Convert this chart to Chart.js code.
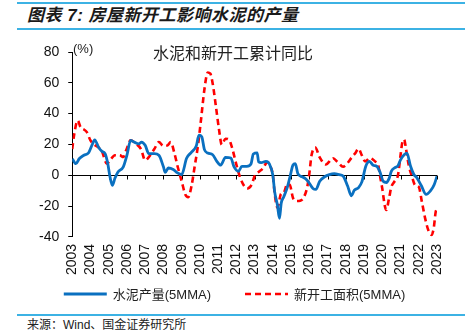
<!DOCTYPE html>
<html>
<head>
<meta charset="utf-8">
<script src="https://cdn.jsdelivr.net/npm/chart.js@4.4.0/dist/chart.umd.min.js"></script>
<style>
  html, body { margin: 0; padding: 0; background: #fff; }
  #page { position: relative; width: 465px; height: 331px; overflow: hidden;
          font-family: "Liberation Sans", "Noto Sans CJK SC", sans-serif; }
  .rule { position: absolute; left: 17px; right: 0; height: 2px; background: #3cb2e4; }
  #title { position: absolute; left: 27px; top: 7px; font-size: 17px; line-height: 17px;
           font-weight: bold; font-style: italic; color: #1a1a1a; white-space: nowrap;
           letter-spacing: 0.5px; }
  #box { position: absolute; left: 0; top: 32px; width: 465px; height: 280px; }
  #source { position: absolute; left: 27px; top: 319px; font-size: 12px; line-height: 12px;
            color: #222; white-space: nowrap; }
</style>
</head>
<body>
<div id="page">
  <div class="rule" style="top:2px"></div>
  <div id="title">图表 7:  房屋新开工影响水泥的产量</div>
  <div class="rule" style="top:28px"></div>
  <div id="box"><canvas id="chart"></canvas></div>
  <div class="rule" style="top:314px"></div>
  <div id="source">来源：Wind、国金证券研究所</div>
</div>

<script>
// 水泥产量 5MMA 同比 (%)
const cementT = [2003.0, 2003.2, 2003.38, 2003.64, 2003.9, 2004.1, 2004.23, 2004.45, 2004.63, 2004.8,
  2004.95, 2005.07, 2005.2, 2005.34, 2005.5, 2005.8, 2006.0, 2006.2, 2006.4, 2006.65,
  2006.8, 2007.0, 2007.2, 2007.5, 2007.75, 2008.0, 2008.1, 2008.27, 2008.54, 2008.77,
  2009.0, 2009.27, 2009.54, 2009.8, 2009.95, 2010.1, 2010.25, 2010.43, 2010.7, 2010.93,
  2011.14, 2011.4, 2011.7, 2011.86, 2012.12, 2012.3, 2012.57, 2012.8, 2012.93, 2013.14,
  2013.22, 2013.36, 2013.62, 2013.8, 2014.0, 2014.1, 2014.25, 2014.36, 2014.46, 2014.6,
  2014.8, 2014.96, 2015.1, 2015.23, 2015.37, 2015.6, 2015.77, 2015.95, 2016.2, 2016.36,
  2016.57, 2016.84, 2017.1, 2017.37, 2017.64, 2017.85, 2018.1, 2018.3, 2018.47, 2018.7,
  2018.88, 2019.1, 2019.3, 2019.5, 2019.7, 2019.87, 2020.05, 2020.23, 2020.37, 2020.5,
  2020.7, 2020.85, 2021.0, 2021.2, 2021.35, 2021.55, 2021.73, 2021.9, 2022.15, 2022.4,
  2022.65, 2022.85, 2023.0];
const cementV = [10.7, 7.5, 10.7, 13, 14.6, 20, 23, 18, 15.5, 14,
  7.5, -1, -6.5, -2, 2, 5.4, 13, 22.6, 21.5, 20.4,
  21.5, 19.4, 14, 14, 13, 5.5, 1.8, 4.7, 3.7, 1.5,
  0.4, 11, 15, 19, 26, 25, 16.6, 14.4, 13.3, 9,
  6.5, 11.6, 11.2, 5.8, 2.6, 5.8, 5.8, 7.3, 13.8, 14.5,
  8.6, 8.2, 9, 7.5, 0, -10.8, -19.4, -28, -18, -14,
  -7.5, 0, 6.5, 7.5, 1, -1, -2, -4.3, -8.6, -9.2,
  -3.9, -1, 0.4, 1, 0.4, -0.5, -7, -13.3, -9.7, -8,
  -4.3, 6, 9, 6.5, 5.8, 2.2, -3.9, -4.7, -2.2, 2.6,
  5, 6, 10, 13.3, 14.3, 5.8, 0.5, -1.7, -7, -12.4,
  -10, -6, -0.6];

// 新开工面积 5MMA 同比 (%)
const startsT = [2003.0, 2003.1, 2003.3, 2003.46, 2003.64, 2003.8, 2004.0, 2004.25, 2004.45, 2004.63,
  2004.9, 2005.07, 2005.34, 2005.6, 2005.8, 2005.95, 2006.2, 2006.5, 2006.77, 2007.0,
  2007.2, 2007.5, 2007.75, 2008.0, 2008.23, 2008.4, 2008.6, 2008.8, 2009.0, 2009.2,
  2009.36, 2009.54, 2009.7, 2009.9, 2010.07, 2010.25, 2010.43, 2010.57, 2010.7, 2010.88,
  2011.05, 2011.2, 2011.4, 2011.6, 2011.77, 2012.0, 2012.2, 2012.43, 2012.6, 2012.84,
  2013.0, 2013.27, 2013.45, 2013.7, 2013.85, 2014.0, 2014.1, 2014.25, 2014.45, 2014.6,
  2014.78, 2014.92, 2015.1, 2015.3, 2015.5, 2015.68, 2015.88, 2016.0, 2016.12, 2016.33,
  2016.55, 2016.9, 2017.3, 2017.55, 2017.85, 2018.1, 2018.35, 2018.5, 2018.7, 2018.88,
  2019.06, 2019.33, 2019.6, 2019.78, 2019.87, 2020.0, 2020.13, 2020.22, 2020.37, 2020.5,
  2020.68, 2020.86, 2021.0, 2021.1, 2021.2, 2021.3, 2021.45, 2021.63, 2021.8, 2022.0,
  2022.17, 2022.35, 2022.52, 2022.7, 2022.82, 2022.93, 2023.0];
const startsV = [17, 26, 35.5, 31, 29.7, 28, 22.6, 19.4, 18, 15.5,
  7.5, 9.7, 13, 13, 11.8, 16, 22.6, 20.4, 17, 9.7,
  11.8, 17, 21.5, 19, 19.4, 21.5, 14.4, 4.7, -3.9, -12.5,
  -14.2, -7, 4.7, 19.8, 37, 56, 66.7, 66, 59.6, 44.5,
  29.5, 19.8, 23.7, 23, 17.6, 6.9, -1.3, -7, -8.6, -6,
  -0.6, 2.6, 4.3, 8.5, 6, 0, -11.8, -21, -12, -11.4,
  -6, -6, -14.6, -16.7, -16.5, -14.6, -8, 1, 12.9, 18,
  12, 7, 11, 8.6, 5.5, 8, 12, 14, 17.2, 12.9,
  9, 11.2, 9, 6.5, 0, -8.6, -19.4, -22.6, -15, -7.5,
  -3.9, 0, 12.9, 21.5, 23.2, 17.2, 6.5, -1, -6.5, -7.5,
  -17.2, -28, -35.5, -38.7, -34.4, -23.7, -22];

// 坐标轴刻度
const yearMin = 2003, yearMax = 2023;
const yMin = -40, yMax = 80, yStep = 20;

const labels = ['水泥产量(5MMA)', '新开工面积(5MMA)'];
const latin = '"Liberation Sans", "Noto Sans CJK SC", sans-serif';

function toPoints(ts, vs) {
  return ts.map((t, i) => ({ x: t, y: vs[i] }));
}

// 零轴以及年份短刻度
const zeroAxis = {
  id: 'zeroAxis',
  beforeDatasetsDraw(chart) {
    const { ctx, chartArea, scales: { x, y } } = chart;
    const y0 = Math.round(y.getPixelForValue(0)) + 0.5;
    ctx.save();
    ctx.strokeStyle = '#000';
    ctx.lineWidth = 1;
    ctx.beginPath();
    ctx.moveTo(chartArea.left, y0);
    ctx.lineTo(chartArea.right, y0);
    x.ticks.forEach(t => {
      const px = Math.round(x.getPixelForValue(t.value)) + 0.5;
      ctx.moveTo(px, y0);
      ctx.lineTo(px, y0 + 4);
    });
    ctx.stroke();
    ctx.restore();
  }
};

// 图内标题、单位和底部图例
const extras = {
  id: 'extras',
  afterDraw(chart) {
    const { ctx, chartArea } = chart;
    ctx.save();
    ctx.fillStyle = '#222';
    ctx.textBaseline = 'middle';
    ctx.textAlign = 'left';
    ctx.font = '16px "Noto Sans CJK SC", sans-serif';
    ctx.fillText('水泥和新开工累计同比', 153, chartArea.top + 1);
    ctx.font = '13px ' + latin;
    ctx.fillText('(%)', 73, chartArea.top - 3);

    // 图例
    ctx.font = '13px ' + latin;
    const sample = 43, gap = 6, spacing = 34;
    const items = chart.data.datasets.map(ds => ({ ds, w: ctx.measureText(ds.label).width }));
    let total = 0;
    items.forEach((it, i) => { total += sample + gap + it.w + (i ? spacing : 0); });
    let lx = (chart.width - total) / 2 + 2;
    const ly = chart.height - 18;
    items.forEach(it => {
      ctx.strokeStyle = it.ds.borderColor;
      ctx.lineWidth = it.ds.borderWidth;
      ctx.setLineDash(it.ds.borderDash || []);
      ctx.beginPath();
      ctx.moveTo(lx, ly);
      ctx.lineTo(lx + sample, ly);
      ctx.stroke();
      ctx.setLineDash([]);
      ctx.fillStyle = '#222';
      ctx.fillText(it.ds.label, lx + sample + gap, ly + 1);
      lx += sample + gap + it.w + spacing;
    });
    ctx.restore();
  }
};

new Chart(document.getElementById('chart'), {
  type: 'line',
  data: {
    datasets: [
      {
        label: labels[0],
        data: toPoints(cementT, cementV),
        borderColor: '#0a70c0',
        borderWidth: 2.8,
        pointRadius: 0,
        cubicInterpolationMode: 'monotone',
        fill: false
      },
      {
        label: labels[1],
        data: toPoints(startsT, startsV),
        borderColor: '#ff0000',
        borderWidth: 2.6,
        borderDash: [6, 4],
        pointRadius: 0,
        cubicInterpolationMode: 'monotone',
        fill: false
      }
    ]
  },
  options: {
    responsive: true,
    maintainAspectRatio: false,
    animation: false,
    layout: { padding: { top: 20, left: 30, right: 28, bottom: 30 } },
    plugins: {
      legend: { display: false },
      tooltip: { enabled: false }
    },
    scales: {
      x: {
        type: 'linear',
        min: yearMin,
        max: yearMax,
        grid: { display: false, drawTicks: false },
        border: { display: false },
        ticks: {
          stepSize: 1,
          autoSkip: false,
          minRotation: 90,
          maxRotation: 90,
          padding: 7,
          color: '#111',
          font: { family: latin, size: 14 },
          callback: v => String(v)
        }
      },
      y: {
        min: yMin,
        max: yMax,
        grid: {
          drawOnChartArea: false,
          drawTicks: true,
          tickLength: 4,
          tickColor: '#000'
        },
        border: { display: true, color: '#000', width: 1 },
        ticks: {
          stepSize: yStep,
          padding: 9,
          color: '#111',
          font: { family: latin, size: 14 }
        }
      }
    }
  },
  plugins: [zeroAxis, extras]
});
</script>
</body>
</html>
